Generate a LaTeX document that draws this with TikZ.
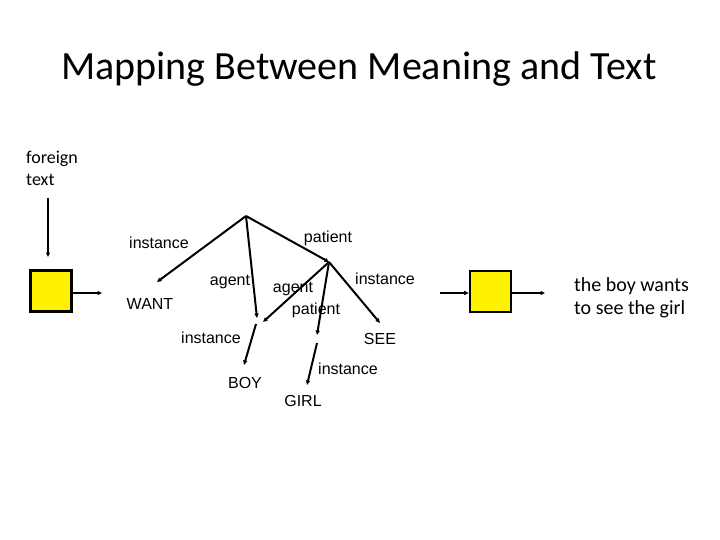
\documentclass[tikz,border=0pt]{standalone}
\usepackage{fontspec}
\setmainfont{Carlito}
\newfontfamily\labfont{Liberation Sans}
\usetikzlibrary{arrows.meta}
\begin{document}
\begin{tikzpicture}[x=1pt,y=-1pt,
  treeline/.style={line width=2pt,-{Triangle[length=4.5pt,width=4pt]}},
  sideline/.style={line width=1.5pt,-{Triangle[length=4.5pt,width=4pt]}},
  rel/.style={font=\labfont\fontsize{16}{19}\selectfont,anchor=base,inner sep=0pt},
  ybox/.style={draw=black,line width=2.6pt,fill=yellow,minimum size=41pt,inner sep=0pt},
  body/.style={font=\fontsize{18}{22}\selectfont,align=left,inner sep=0pt}]
\useasboundingbox (0,0) rectangle (720,540);
\fill[white] (0,0) rectangle (720,540);
% title
\node[font=\fontsize{40}{48}\selectfont,anchor=base,inner sep=0pt] (title) at (359,80) {Mapping Between Meaning and Text};
% left side
\node[body,anchor=north west] (foreign) at (26,151) {foreign\\text};
\coordinate (fstart) at (48,198);
\coordinate (fend) at (48,257);
\node[ybox] (lbox) at (51,291) {};
\coordinate (ltip) at (102,293);
\draw[sideline] (fstart) -- (fend);
\draw[sideline] (lbox.east |- ltip) -- (ltip);
% right side
\node[ybox] (rbox) at (490.5,291.5) {};
\coordinate (rstart) at (440,293);
\coordinate (rtip) at (545,293);
\draw[sideline] (rstart) -- (rbox.west |- rstart);
\draw[sideline] (rbox.east |- rtip) -- (rtip);
\node[font=\fontsize{20}{23.5}\selectfont,align=left,inner sep=0pt,anchor=north west] (eng) at (574,277) {the boy wants\\to see the girl};
% tree
\coordinate (root) at (246,216);
\coordinate (wanttip) at (157,282);
\coordinate (boytopA) at (257,318);
\coordinate (see) at (329,262);
\coordinate (boytopB) at (263,322);
\coordinate (girltop) at (317,335);
\coordinate (seetip) at (380,323);
\coordinate (boyv) at (256,324);
\coordinate (boytip) at (244,365);
\coordinate (girlv) at (317,343);
\coordinate (girltip) at (307,385);
\draw[treeline] (root) -- (wanttip);
\draw[treeline] (root) -- (boytopA);
\draw[treeline] (root) -- (see);
\draw[treeline] (see) -- (boytopB);
\draw[treeline] (see) -- (girltop);
\draw[treeline] (see) -- (seetip);
\draw[treeline] (boyv) -- (boytip);
\draw[treeline] (girlv) -- (girltip);
% labels
\node[rel] (l1) at (159,248) {instance};
\node[rel] (l2) at (230,285) {agent};
\node[rel] (l3) at (328,242) {patient};
\node[rel] (l4) at (293,292) {agent};
\node[rel] (l5) at (385,284) {instance};
\node[rel] (l6) at (316,314) {patient};
\node[rel] (l7) at (211,343) {instance};
\node[rel] (l8) at (348,374) {instance};
\node[rel] (want) at (150,309) {WANT};
\node[rel] (boy) at (245,388) {BOY};
\node[rel] (girl) at (303,406) {GIRL};
\node[rel] (seel) at (380,344) {SEE};
\end{tikzpicture}
\end{document}
